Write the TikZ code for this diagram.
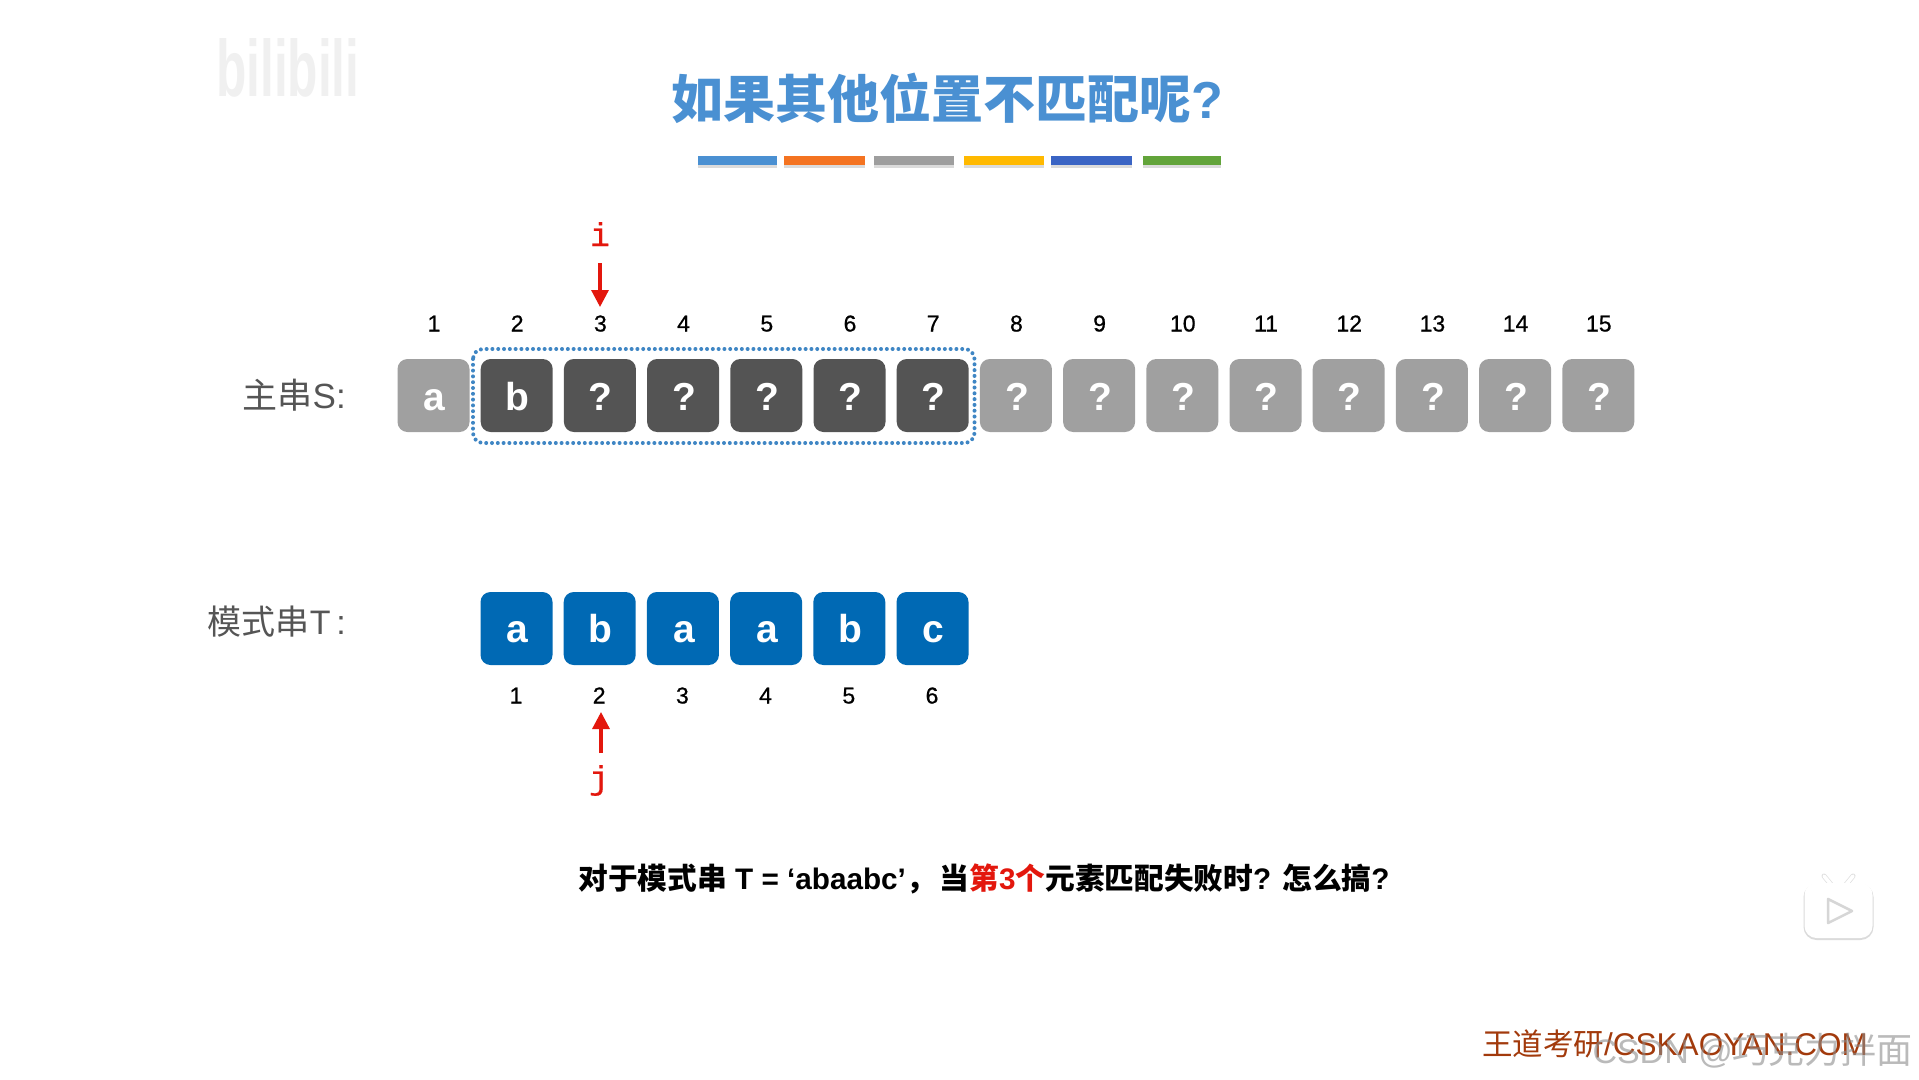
\documentclass[tikz,border=0pt]{standalone}
\usepackage{fontspec}
\setmainfont{Liberation Sans}
\newfontfamily\cjk{Noto Sans CJK SC}
\newfontfamily\monof[FakeBold=0.5]{Liberation Mono}
\newfontfamily\numf[FakeBold=0.7]{Liberation Sans}
\usetikzlibrary{arrows.meta}
\definecolor{titleblue}{HTML}{4A90D2}
\definecolor{cellgray}{HTML}{A0A0A0}
\definecolor{celldark}{HTML}{545454}
\definecolor{cellblue}{HTML}{0069B4}
\definecolor{dotblue}{HTML}{3F86C4}
\definecolor{ptrred}{HTML}{E3170D}
\definecolor{footbrown}{HTML}{A23A0C}
\definecolor{labelgray}{HTML}{555555}
\newcommand{\fs}[1]{\fontsize{#1}{#1}\selectfont}
\tikzset{
  x=1pt,y=-1pt,
  cellbox/.style={inner sep=0pt,minimum width=72pt,minimum height=73pt,rounded corners=10pt},
  graybox/.style={cellbox,fill=cellgray},
  darkbox/.style={cellbox,fill=celldark},
  bluebox/.style={cellbox,fill=cellblue},
  celltext/.style={anchor=base,inner sep=0pt,text=white,font=\fs{39}\bfseries},
  idx/.style={anchor=base,inner sep=0pt,text=black,font=\fs{23}\numf},
  ptr/.style={anchor=base,inner sep=0pt,text=ptrred,font=\fs{33}\monof},
  ptrarrow/.style={draw=ptrred,line width=3.2pt,-{Triangle[length=17pt,width=17pt]}},
  colorbar/.style={inner sep=0pt,minimum height=9pt,anchor=north west},
  sidelabel/.style={anchor=base east,inner sep=0pt,text=labelgray},
  iconline/.style={line cap=round,line join=round},
}
\begin{document}
\begin{tikzpicture}
\useasboundingbox (0,0) rectangle (1919,1079);
\fill[white] (0,0) rectangle (1919,1079);

% faint bilibili mark
\node[anchor=base west,inner sep=0pt,text=black!6,font=\fs{80}\bfseries,xscale=.62] (bili) at (216,96) {bilibili};

% title
\node[anchor=base,inner sep=0pt,text=titleblue,font=\fs{52}\bfseries] (title) at (947,118) {{\cjk 如果其他位置不匹配呢}?};

% colour bars
\foreach \n/\xa/\xb/\c in {b1/698/777/4A90D2,b2/784/865/F47321,b3/874/954/9E9E9E,b4/963.5/1044/FFB900,b5/1051/1132/3A64C4,b6/1143/1221/62A43A}{
  \definecolor{barc}{HTML}{\c}
  \fill[black!14] (\xa,165) rectangle (\xb,168);
  \pgfmathsetmacro{\w}{\xb-\xa}
  \node[colorbar,fill=barc,minimum width=\w pt] (\n) at (\xa,156) {};
}

% row labels
\node[sidelabel,font=\fs{35}] (slabel) at (346,408) {{\cjk 主串}S:};
\node[sidelabel,font=\fs{34}] (tlabel) at (346,634) {{\cjk 模式串}T\,:};

% main string S
\foreach \i/\t/\st in {1/a/graybox,2/b/darkbox,3/?/darkbox,4/?/darkbox,5/?/darkbox,6/?/darkbox,7/?/darkbox,8/?/graybox,9/?/graybox,10/?/graybox,11/?/graybox,12/?/graybox,13/?/graybox,14/?/graybox,15/?/graybox}{
  \pgfmathsetmacro{\cx}{433.5+83.2*(\i-1)}
  \node[\st] (s\i) at (\cx,395.5) {};
  \node[celltext] (st\i) at (\cx+1,410) {\t};
  \node[idx] (sn\i) at (\cx+.5,331.5) {\i};
}

% pattern string T
\foreach \i/\t in {1/a,2/b,3/a,4/a,5/b,6/c}{
  \pgfmathsetmacro{\cx}{516.5+83.2*(\i-1)}
  \node[bluebox] (t\i) at (\cx,628.5) {};
  \node[celltext] (tt\i) at (\cx+1,642.5) {\t};
  \node[idx] (tn\i) at (\cx-.5,703.5) {\i};
}

% dotted window
\draw[dotblue,line width=4pt,line cap=round,dash pattern=on 0pt off 5.8pt,rounded corners=10pt] (473,349) rectangle (974.5,443);

% pointers
\node[ptr] (ilabel) at (600,246) {i};
\coordinate (ifrom) at (600,263);
\coordinate (ito) at (600,307);
\draw[ptrarrow] (ifrom) -- (ito);
\node[ptr] (jlabel) at (599,789) {j};
\coordinate (jfrom) at (601,753);
\coordinate (jto) at (601,712);
\draw[ptrarrow] (jfrom) -- (jto);

% question
\node[anchor=base,inner sep=0pt,text=black,font=\fs{29.7}\bfseries] (question) at (984,889)
  {{\cjk 对于模式串} T = ‘abaabc’{\cjk ，}\hspace{4pt}{\cjk 当}\textcolor{ptrred}{{\cjk 第}3{\cjk 个}}{\cjk 元素匹配失败时}? {\cjk 怎么搞}?};

% play icon
\draw[iconline,black!12,line width=5pt] (1824,876) -- (1833,887) (1853,876) -- (1844,887);
\draw[iconline,white,line width=3.5pt] (1824,876) -- (1833,887) (1853,876) -- (1844,887);
\fill[black!14,rounded corners=13pt] (1803.5,884) rectangle (1873.5,940);
\fill[white,rounded corners=12pt] (1804.5,883) rectangle (1872.5,938);
\draw[iconline,black!16,line width=2.5pt,fill=white] (1828,899) -- (1852,911) -- (1828,923) -- cycle;

% footer
\node[anchor=base west,inner sep=0pt,text=footbrown,font=\fs{31.5}] (foot) at (1482,1055) {{\cjk\fs{30.5}王道考研}/CSKAOYAN.COM};
\node[anchor=base east,inner sep=0pt,text=black!45,opacity=.6,font=\fs{34}] (csdn) at (1913,1063) {CSDN @{\cjk\fs{36}巧克力拌面}};
\end{tikzpicture}
\end{document}
